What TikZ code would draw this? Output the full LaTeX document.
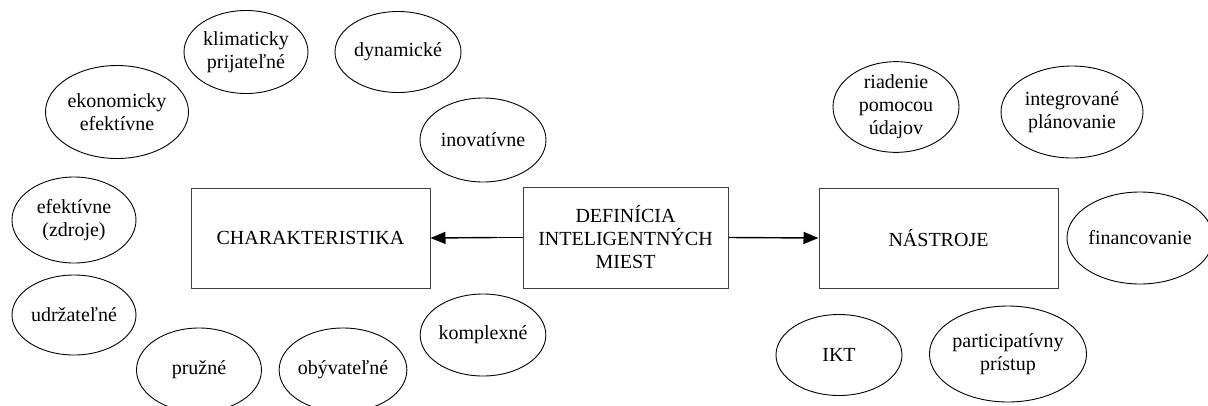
\documentclass[tikz,border=0pt]{standalone}
\usepackage{fontspec}
\setmainfont{Liberation Serif}
\usetikzlibrary{shapes.geometric,arrows.meta}
\begin{document}
\begin{tikzpicture}[x=1pt,y=-1pt,
  every node/.style={font=\fontsize{20}{23}\selectfont, align=center, inner sep=0pt},
  bubble/.style={draw=black, line width=0.9pt, ellipse},
  panel/.style={draw=black!75, line width=1pt, rectangle},
  link/.style={line width=1.4pt, -{Triangle[length=15pt,width=12pt]}}]
\useasboundingbox (0,0) rectangle (1208,405);
\clip (0,0) rectangle (1208,405);

% central boxes
\node[panel, minimum width=239pt, minimum height=100pt] (char) at (310.5,238) {CHARAKTERISTIKA};
\node[panel, minimum width=205pt, minimum height=101pt] (def) at (625.5,237.5) {DEFINÍCIA\\INTELIGENTNÝCH\\MIEST};
\node[panel, minimum width=239pt, minimum height=100pt] (tools) at (938.5,238) {NÁSTROJE};

% connectors
\coordinate (lj) at ([xshift=-25pt]def.west);
\draw[line width=1pt] (def.west) -- (lj);
\draw[link] (lj) -- (char.east);
\draw[link] (def.east) -- (tools.west);

% characteristics
\node[bubble, minimum width=124pt, minimum height=83pt] (klim) at (246,52) {klimaticky\\prijateľné};
\node[bubble, minimum width=126pt, minimum height=81pt] (dyn) at (398,52) {dynamické};
\node[bubble, minimum width=143pt, minimum height=93pt] (eko) at (117,112) {ekonomicky\\efektívne};
\node[bubble, minimum width=126pt, minimum height=84pt] (ino) at (483,140) {inovatívne};
\node[bubble, minimum width=124pt, minimum height=86pt] (efe) at (74,220) {efektívne\\(zdroje)};
\node[bubble, minimum width=124pt, minimum height=80pt] (udr) at (74,315) {udržateľné};
\node[bubble, minimum width=125pt, minimum height=84pt] (pru) at (199,370) {pružné};
\node[bubble, minimum width=114pt, minimum height=84pt] (oby) at (343,370) {obývateľné};
\node[bubble, minimum width=125pt, minimum height=82pt] (kom) at (483,335) {komplexné};

% tools
\node[bubble, minimum width=126pt, minimum height=80pt] (ria) at (896,107) {riadenie\\pomocou\\údajov};
\node[bubble, minimum width=142pt, minimum height=92pt] (int) at (1072,112) {integrované\\plánovanie};
\node[bubble, minimum width=134pt, minimum height=92pt] (fin) at (1140,238) {financovanie};
\node[bubble, minimum width=126pt, minimum height=81pt] (ikt) at (839,355) {IKT};
\node[bubble, minimum width=157pt, minimum height=96pt] (par) at (1008,354) {participatívny\\prístup};
\end{tikzpicture}
\end{document}
